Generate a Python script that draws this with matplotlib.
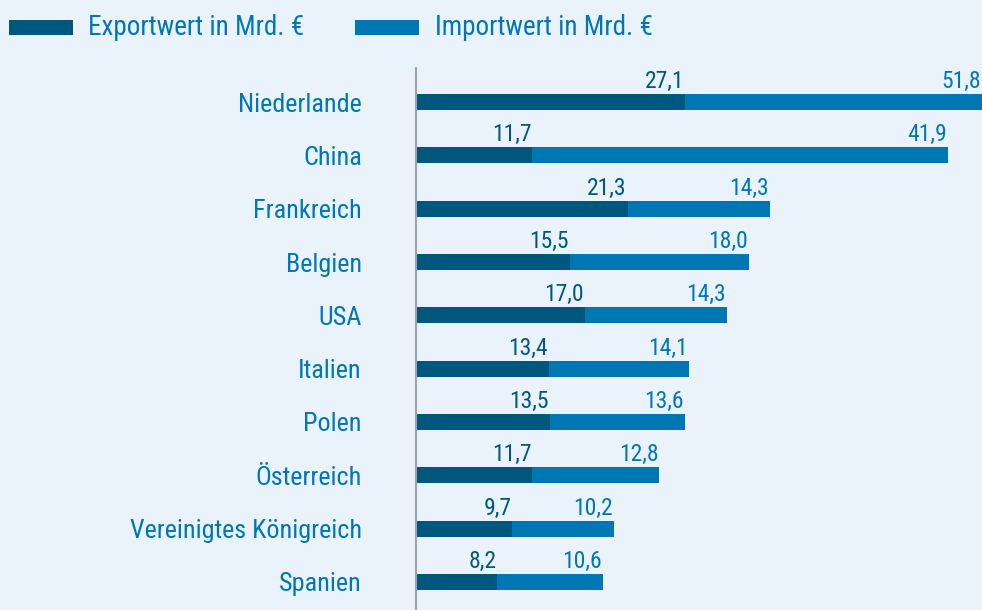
import matplotlib
matplotlib.use("Agg")
import matplotlib.pyplot as plt
from matplotlib import font_manager as fm
from matplotlib.patches import Rectangle

countries = ["Niederlande", "China", "Frankreich", "Belgien", "USA", "Italien",
             "Polen", "Österreich", "Vereinigtes Königreich", "Spanien"]
export_vals = [27.1, 11.7, 21.3, 15.5, 17.0, 13.4, 13.5, 11.7, 9.7, 8.2]
import_vals = [51.8, 41.9, 14.3, 18.0, 14.3, 14.1, 13.6, 12.8, 10.2, 10.6]
series_labels = ["Exportwert in Mrd. €", "Importwert in Mrd. €"]

c_exp = "#00577d"
c_imp = "#0077b3"
bg = "#eaf3fb"

avail = {f.name for f in fm.fontManager.ttflist}
fam = "DejaVu Sans"
for cand in ["Roboto Condensed", "Liberation Sans Narrow", "Open Sans Condensed", "DejaVu Sans Condensed", "Roboto"]:
    if cand in avail:
        fam = cand
        break
plt.rcParams["font.family"] = [fam, "DejaVu Sans"]

fig = plt.figure(figsize=(9.82, 6.10), dpi=100, facecolor=bg)
ax = fig.add_axes([416/982, 0, 1 - 416/982, 1 - 68/610])
ax.set_facecolor(bg)

xmax = 57.0
rows = list(range(len(countries)))
h = 0.3
ax.barh(rows, export_vals, height=h, color=c_exp, label=series_labels[0])
ax.barh(rows, import_vals, left=export_vals, height=h, color=c_imp, label=series_labels[1])
ax.set_xlim(0, xmax)
ax.set_ylim(9 + 28/53.3, -34/53.3)

for i, (e, im) in enumerate(zip(export_vals, import_vals)):
    ax.annotate(f"{e:.1f}".replace(".", ","), xy=(e, i - h/2), xytext=(-1, 6),
                textcoords="offset pixels", ha="right", va="baseline",
                color=c_exp, fontsize=17)
    end = min(e + im, xmax)
    ax.annotate(f"{im:.1f}".replace(".", ","), xy=(end, i - h/2), xytext=(-1, 6),
                textcoords="offset pixels", ha="right", va="baseline",
                color=c_imp, fontsize=17, annotation_clip=False)

ax.set_yticks(rows)
ax.set_yticklabels(countries, fontsize=18.8, color=c_imp)
ax.tick_params(axis="y", length=0, pad=39)
ax.set_xticks([])
for s in ["top", "right", "bottom"]:
    ax.spines[s].set_visible(False)
ax.spines["left"].set_color("#a0a4a8")
ax.spines["left"].set_linewidth(1.5)

# legend
W, H = 982, 610
for x0, col, lab, tx in [(9, c_exp, series_labels[0], 88), (355, c_imp, series_labels[1], 435)]:
    fig.patches.append(Rectangle((x0/W, 1 - 35/H), 64/W, 15/H, transform=fig.transFigure,
                                 facecolor=col, edgecolor="none"))
    fig.text(tx/W, 1 - 27.5/H, lab, fontsize=19.5, color=c_imp, va="center", ha="left")

fig.savefig("out.png", dpi=100, facecolor=bg)
